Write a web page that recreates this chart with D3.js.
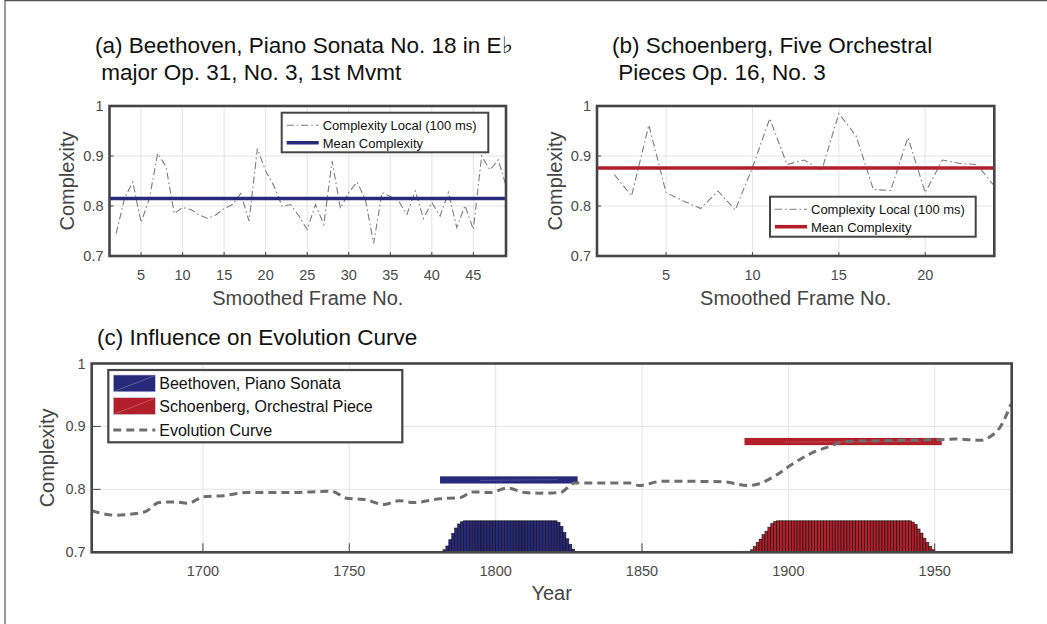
<!DOCTYPE html>
<html>
<head>
<meta charset="utf-8">
<script src="https://cdn.jsdelivr.net/npm/d3@7"></script>
<style>
  html, body { margin: 0; padding: 0; background: #fff; }
  svg { display: block; font-family: "Liberation Sans", Arial, Helvetica, sans-serif; }
</style>
</head>
<body>
<svg id="fig" width="1047" height="624"></svg>
<script>
// ---- Panel (a): Beethoven, local complexity per smoothed frame ----
const beethovenFrames = [2,3,4,5,6,7,8,9,10,11,12,13,14,15,16,17,18,19,20,21,22,23,24,25,
  26,27,28,29,30,31,32,33,34,35,36,37,38,39,40,41,42,43,44,45,46,47,48,49];
const beethovenLocal = [0.745,0.815,0.848,0.767,0.815,0.905,0.879,0.785,0.797,0.793,0.782,0.775,
  0.782,0.795,0.803,0.825,0.770,0.915,0.870,0.840,0.799,0.803,0.780,0.753,
  0.803,0.763,0.890,0.795,0.827,0.848,0.813,0.725,0.827,0.819,0.810,0.783,
  0.830,0.775,0.807,0.780,0.827,0.757,0.801,0.753,0.900,0.872,0.892,0.837];
const beethovenMean = 0.815;

// ---- Panel (b): Schoenberg, local complexity per smoothed frame ----
const schoenbergFrames = [2,3,4,5,6,7,8,9,10,11,12,13,14,15,16,17,18,19,20,21,22,23,24];
const schoenbergLocal = [0.863,0.820,0.962,0.827,0.810,0.795,0.830,0.792,0.877,0.975,0.883,0.892,
  0.870,0.985,0.940,0.833,0.831,0.937,0.827,0.892,0.885,0.883,0.840];
const schoenbergMean = 0.876;

// ---- Panel (c): evolution curve over the years ----
const evoYears = [1662,1670,1680,1685,1690,1695,1700,1707,1715,1730,1744,1749,1755,1762,1767,1772,
  1781,1788,1792,1798,1804,1810,1815,1822,1827,1846,1849,1857,1878,1886,1890,1896,
  1901,1909,1914,1919,1928,1951,1957,1966,1969,1972.5,1976];
const evoValues = [0.766,0.759,0.764,0.779,0.780,0.778,0.788,0.790,0.795,0.795,0.797,0.786,0.784,0.776,0.782,0.779,
  0.785,0.787,0.796,0.795,0.802,0.795,0.794,0.795,0.810,0.810,0.806,0.813,0.812,0.806,0.809,0.823,
  0.839,0.860,0.868,0.876,0.877,0.879,0.880,0.878,0.884,0.900,0.935];

// Period spans (years) at which each piece's mean complexity is placed
const beethovenSpan = [1781, 1828];
const schoenbergSpan = [1885, 1952.4];

// Year-by-year weighting histograms (bar tops on the complexity axis)
const beethovenHistYears = [1781,1782,1783,1784,1785,1786,1787,1788,1789,1790,1791,1792,1793,1794,1795,1796,
  1797,1798,1799,1800,1801,1802,1803,1804,1805,1806,1807,1808,1809,1810,1811,1812,
  1813,1814,1815,1816,1817,1818,1819,1820,1821,1822,1823,1824,1825,1826,1827];
const beethovenHistTops = [0.701,0.704,0.710,0.720,0.730,0.7385,0.745,0.7485,0.750,0.750,0.750,0.750,0.750,0.750,0.750,0.750,
  0.750,0.750,0.750,0.750,0.750,0.750,0.750,0.750,0.750,0.750,0.750,0.750,0.750,0.750,0.750,0.750,
  0.750,0.750,0.750,0.750,0.750,0.750,0.750,0.750,0.7475,0.741,0.7315,0.7215,0.7125,0.705,0.7015];
const schoenbergHistYears = [1886,1887,1888,1889,1890,1891,1892,1893,1894,1895,1896,1897,1898,1899,1900,1901,
  1902,1903,1904,1905,1906,1907,1908,1909,1910,1911,1912,1913,1914,1915,1916,1917,
  1918,1919,1920,1921,1922,1923,1924,1925,1926,1927,1928,1929,1930,1931,1932,1933,
  1934,1935,1936,1937,1938,1939,1940,1941,1942,1943,1944,1945,1946,1947,1948,1949,1950];
const schoenbergHistTops = [0.701,0.704,0.709,0.7155,0.721,0.728,0.7335,0.740,0.7455,0.749,0.750,0.750,0.750,0.750,0.750,0.750,
  0.750,0.750,0.750,0.750,0.750,0.750,0.750,0.750,0.750,0.750,0.750,0.750,0.750,0.750,0.750,0.750,
  0.750,0.750,0.750,0.750,0.750,0.750,0.750,0.750,0.750,0.750,0.750,0.750,0.750,0.750,0.750,0.750,
  0.750,0.750,0.750,0.750,0.750,0.750,0.750,0.750,0.748,0.744,0.737,0.7305,0.7225,0.7155,0.709,0.704,0.701];

const yTicks = [0.7, 0.8, 0.9, 1];
const yTickLabels = ["0.7", "0.8", "0.9", "1"];
const aTicks = [5,10,15,20,25,30,35,40,45];
const bTicks = [5,10,15,20];
const cTicks = [1700,1750,1800,1850,1900,1950];

const BLUE = "#272a7b";
const RED = "#b21f2a";
const BOX = "#454545";
const GRID = "#e4e4e4";
const TICKTXT = "#4a4a4a";

const svg = d3.select("#fig");

// figure frame
svg.append("line").attr("x1", 5).attr("x2", 5).attr("y1", 0).attr("y2", 624)
  .attr("stroke", "#555").attr("stroke-width", 1.2);
svg.append("line").attr("x1", 5).attr("x2", 1047).attr("y1", 0.6).attr("y2", 0.6)
  .attr("stroke", "#555").attr("stroke-width", 1.2);

function makeAxes(opts) {
  const { x0, x1, y0, y1, xDomain, xTicks, tickLen, clipId } = opts;
  const x = d3.scaleLinear().domain(xDomain).range([x0, x1]);
  const y = d3.scaleLinear().domain([0.7, 1]).range([y1, y0]);
  const g = svg.append("g");

  svg.append("clipPath").attr("id", clipId).append("rect")
    .attr("x", x0).attr("y", y0).attr("width", x1 - x0).attr("height", y1 - y0);

  // grid
  g.append("g").selectAll("line").data(xTicks).join("line")
    .attr("x1", d => x(d)).attr("x2", d => x(d)).attr("y1", y0).attr("y2", y1)
    .attr("stroke", GRID).attr("stroke-width", 1);
  g.append("g").selectAll("line").data(yTicks.slice(1, -1)).join("line")
    .attr("x1", x0).attr("x2", x1).attr("y1", d => y(d)).attr("y2", d => y(d))
    .attr("stroke", GRID).attr("stroke-width", 1);

  // inward ticks
  g.append("g").selectAll("line").data(xTicks).join("line")
    .attr("x1", d => x(d)).attr("x2", d => x(d)).attr("y1", y1).attr("y2", y1 - tickLen)
    .attr("stroke", BOX).attr("stroke-width", 1);
  g.append("g").selectAll("line").data(yTicks).join("line")
    .attr("x1", x0).attr("x2", x0 + tickLen).attr("y1", d => y(d)).attr("y2", d => y(d))
    .attr("stroke", BOX).attr("stroke-width", 1);

  // tick labels
  g.append("g").selectAll("text").data(xTicks).join("text")
    .attr("x", d => x(d)).attr("y", y1 + 24).attr("text-anchor", "middle")
    .attr("font-size", 14.5).attr("fill", TICKTXT).text(d => d);
  g.append("g").selectAll("text").data(yTicks).join("text")
    .attr("x", x0 - 6).attr("y", d => y(d) + 5).attr("text-anchor", "end")
    .attr("font-size", 14.5).attr("fill", TICKTXT).text((d, i) => yTickLabels[i]);

  const data = svg.append("g").attr("clip-path", `url(#${clipId})`);
  const top = svg.append("g");
  const drawBox = () => top.append("rect")
    .attr("x", x0).attr("y", y0).attr("width", x1 - x0).attr("height", y1 - y0)
    .attr("fill", "none").attr("stroke", BOX).attr("stroke-width", 2.6);
  return { x, y, data, top, drawBox };
}

function label(text, xPos, yPos, size, rotate, fill, anchor) {
  const t = svg.append("text").attr("font-size", size).attr("fill", fill)
    .attr("text-anchor", anchor || "middle").text(text);
  if (rotate) t.attr("transform", `translate(${xPos},${yPos}) rotate(-90)`);
  else t.attr("x", xPos).attr("y", yPos);
  return t;
}

function localPanel(p) {
  const ax = makeAxes(p.axes);
  const line = d3.line().x((d, i) => ax.x(p.frames[i])).y(d => ax.y(d));
  ax.data.append("path").datum(p.values).attr("d", line)
    .attr("fill", "none").attr("stroke", "#7c7c7c").attr("stroke-width", 1.1)
    .attr("stroke-dasharray", "7,3,1.5,3");
  ax.data.append("line")
    .attr("x1", ax.x.range()[0]).attr("x2", ax.x.range()[1])
    .attr("y1", ax.y(p.mean)).attr("y2", ax.y(p.mean))
    .attr("stroke", p.color).attr("stroke-width", 3.6);
  ax.drawBox();

  // legend
  const L = p.legend;
  const lg = ax.top.append("g");
  lg.append("rect").attr("x", L.x).attr("y", L.y).attr("width", L.w).attr("height", L.h)
    .attr("fill", "#fff").attr("stroke", BOX).attr("stroke-width", 2);
  lg.append("line").attr("x1", L.x + 5).attr("x2", L.x + 37)
    .attr("y1", L.y + 12.5).attr("y2", L.y + 12.5)
    .attr("stroke", "#7c7c7c").attr("stroke-width", 1.1).attr("stroke-dasharray", "7,3,1.5,3");
  lg.append("line").attr("x1", L.x + 5).attr("x2", L.x + 37)
    .attr("y1", L.y + 30).attr("y2", L.y + 30)
    .attr("stroke", p.color).attr("stroke-width", 3.6);
  lg.append("text").attr("x", L.x + 41).attr("y", L.y + 17).attr("font-size", 13)
    .attr("fill", "#111").text("Complexity Local (100 ms)");
  lg.append("text").attr("x", L.x + 41).attr("y", L.y + 35).attr("font-size", 13)
    .attr("fill", "#111").text("Mean Complexity");

  const cx = (p.axes.x0 + p.axes.x1) / 2;
  label("Complexity", p.ylabX, (p.axes.y0 + p.axes.y1) / 2, 20, true, "#444");
  label("Smoothed Frame No.", cx, 305, 20, false, "#444");
}

localPanel({
  axes: { x0: 109.5, x1: 506, y0: 106, y1: 256, xDomain: [1.2, 48.93], xTicks: aTicks, tickLen: 4, clipId: "clipA" },
  frames: beethovenFrames, values: beethovenLocal, mean: beethovenMean, color: BLUE,
  legend: { x: 281.7, y: 112.7, w: 206.6, h: 39.6 }, ylabX: 74
});
localPanel({
  axes: { x0: 597, x1: 994.3, y0: 106, y1: 256, xDomain: [1, 24], xTicks: bTicks, tickLen: 4, clipId: "clipB" },
  frames: schoenbergFrames, values: schoenbergLocal, mean: schoenbergMean, color: RED,
  legend: { x: 770, y: 196.7, w: 205.7, h: 40 }, ylabX: 562
});

// titles
label("(a) Beethoven, Piano Sonata No. 18 in E\u266D", 95, 53, 22.5, false, "#111", "start");
label(" major Op. 31, No. 3, 1st Mvmt", 95, 80, 22.5, false, "#111", "start").attr("xml:space", "preserve");
label("(b) Schoenberg, Five Orchestral", 612, 53, 22.5, false, "#111", "start");
label(" Pieces Op. 16, No. 3", 612, 80, 22.5, false, "#111", "start").attr("xml:space", "preserve");
label("(c) Influence on Evolution Curve", 97, 345, 22.5, false, "#111", "start");

// ---- Panel (c) ----
const C = makeAxes({ x0: 91.7, x1: 1011.7, y0: 363.5, y1: 552.3, xDomain: [1662, 1976.3], xTicks: cTicks, tickLen: 9, clipId: "clipC" });
const yearW = C.x(1) - C.x(0);

function histogram(years, tops, color) {
  C.data.append("g").selectAll("rect").data(tops).join("rect")
    .attr("x", (d, i) => C.x(years[i]))
    .attr("width", yearW)
    .attr("y", d => C.y(d))
    .attr("height", d => C.y(0.7) - C.y(d))
    .attr("fill", color).attr("stroke", "#111").attr("stroke-width", 0.6);
}
histogram(beethovenHistYears, beethovenHistTops, BLUE);
histogram(schoenbergHistYears, schoenbergHistTops, RED);

function meanBar(span, value, color) {
  C.data.append("rect")
    .attr("x", C.x(span[0])).attr("width", C.x(span[1]) - C.x(span[0]))
    .attr("y", C.y(value) - 3.6).attr("height", 7.2)
    .attr("fill", color);
  C.data.append("line")
    .attr("x1", C.x(span[0]) + 40).attr("x2", C.x(span[1]) - 20)
    .attr("y1", C.y(value) + 0.5).attr("y2", C.y(value) - 0.3)
    .attr("stroke", "#fff").attr("stroke-opacity", 0.18).attr("stroke-width", 1);
}
meanBar(beethovenSpan, beethovenMean, BLUE);
meanBar(schoenbergSpan, schoenbergMean, RED);

const evoLine = d3.line().curve(d3.curveMonotoneX)
  .x((d, i) => C.x(evoYears[i])).y(d => C.y(d));
C.data.append("path").datum(evoValues).attr("d", evoLine)
  .attr("fill", "none").attr("stroke", "#6e6e6e").attr("stroke-width", 3)
  .attr("stroke-dasharray", "8,5");

C.drawBox();

// legend (c)
const lgc = C.top.append("g");
lgc.append("rect").attr("x", 108.3).attr("y", 370).attr("width", 294).attr("height", 72.3)
  .attr("fill", "#fff").attr("stroke", BOX).attr("stroke-width", 2.2);
[[BLUE, "Beethoven, Piano Sonata", 375], [RED, "Schoenberg, Orchestral Piece", 397.7]].forEach(([col, txt, yy]) => {
  lgc.append("rect").attr("x", 113.3).attr("y", yy).attr("width", 42).attr("height", 16.8)
    .attr("fill", col).attr("stroke", "#c8c8d8").attr("stroke-width", 0.6);
  lgc.append("line").attr("x1", 115).attr("x2", 154).attr("y1", yy + 16).attr("y2", yy + 1)
    .attr("stroke", "#fff").attr("stroke-opacity", 0.3).attr("stroke-width", 0.8);
  lgc.append("text").attr("x", 159.3).attr("y", yy + 14).attr("font-size", 16)
    .attr("fill", "#111").text(txt);
});
lgc.append("line").attr("x1", 113.3).attr("x2", 155.3).attr("y1", 430).attr("y2", 430)
  .attr("stroke", "#6e6e6e").attr("stroke-width", 3).attr("stroke-dasharray", "8,5");
lgc.append("text").attr("x", 159.3).attr("y", 436).attr("font-size", 16)
  .attr("fill", "#111").text("Evolution Curve");

label("Complexity", 54, (363.5 + 552.3) / 2, 20, true, "#444");
label("Year", 551.7, 600, 20, false, "#444");
</script>
</body>
</html>
